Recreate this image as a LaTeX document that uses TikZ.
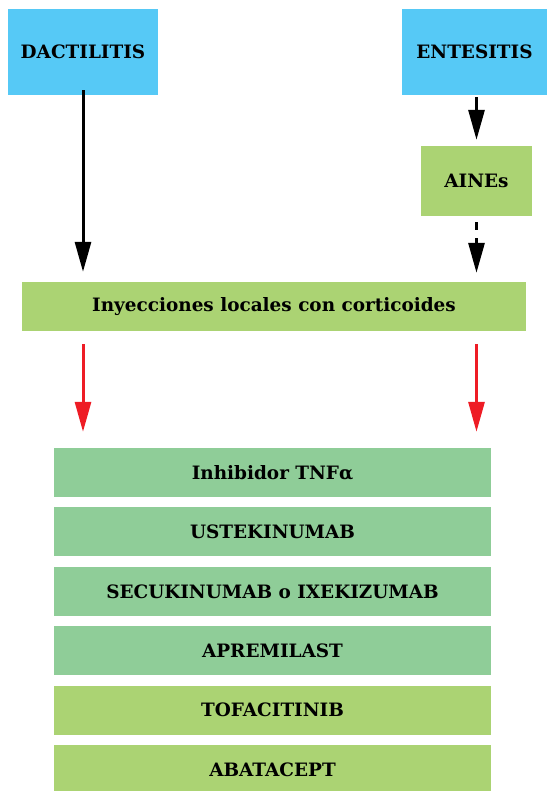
\documentclass[tikz,border=0pt]{standalone}
\usepackage{fontspec}
\setmainfont{DejaVu Serif}
\usepackage{tikz}
\usetikzlibrary{calc}
\usetikzlibrary{arrows.meta}
\definecolor{azul}{HTML}{56C9F6}
\definecolor{verde}{HTML}{ABD373}
\definecolor{verdeb}{HTML}{8FCD98}
\definecolor{rojo}{HTML}{EE1C25}
\tikzset{>={Triangle[length=30bp,width=16bp]}}
\tikzset{caja/.style={rectangle,inner sep=0pt,font=\fontsize{18.5}{21}\selectfont\bfseries,text=black}}
\tikzset{flecha/.style={->,line width=3bp}}

\begin{document}
\begin{tikzpicture}[x=1bp,y=-1bp]
\useasboundingbox (0,0) rectangle (547,791);
\node[caja,fill=azul,minimum width=150bp,minimum height=86bp] (dac) at (83,52) {DACTILITIS};
\node[caja,fill=azul,minimum width=145bp,minimum height=86bp] (ent) at (474.5,52) {ENTESITIS};
\node[caja,fill=verde,minimum width=111bp,minimum height=70bp] (aine) at (476.5,181) {AINEs};
\node[caja,fill=verde,minimum width=504bp,minimum height=49bp] (cort) at (274,306.5) {Inyecciones locales con corticoides};
\foreach \t/\c [count=\i from 0] in {Inhibidor TNFα/verdeb,USTEKINUMAB/verdeb,SECUKINUMAB o IXEKIZUMAB/verdeb,APREMILAST/verdeb,TOFACITINIB/verde,ABATACEPT/verde}
  \node[caja,fill=\c,minimum width=437bp,minimum height=49bp] (b\i) at (272.5,472.5+59.4*\i) {\t};
\draw[flecha,shorten <=-5bp,shorten >=10bp] (dac.south) -- (dac.south |- cort.north);
\draw[flecha,shorten <=2bp,shorten >=6bp] (aine.north |- ent.south) -- (aine.north);
\draw[flecha,dash pattern=on 8bp off 8bp,shorten <=6bp,shorten >=9bp] (aine.south) -- (aine.south |- cort.north);
\draw[flecha,rojo,shorten <=13bp,shorten >=16bp] (dac.south |- cort.south) -- (dac.south |- b0.north);
\draw[flecha,rojo,shorten <=13bp,shorten >=16bp] (aine.south |- cort.south) -- (aine.south |- b0.north);
\end{tikzpicture}
\end{document}
